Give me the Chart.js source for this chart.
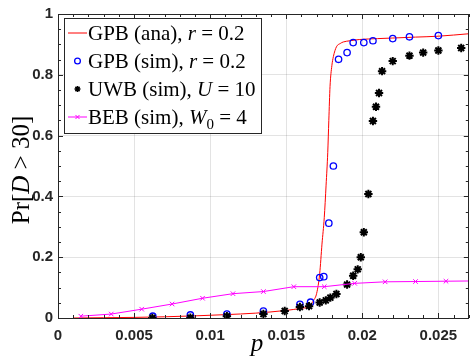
<!DOCTYPE html>
<html>
<head>
<meta charset="utf-8">
<script src="https://cdn.jsdelivr.net/npm/chart.js@4.4.1/dist/chart.umd.min.js"></script>
<style>
  body { margin: 0; background: #fff; }
  #wrap { width: 475px; height: 357px; }
</style>
</head>
<body>
<div id="wrap"><canvas id="prChart"></canvas></div>
<script>
// GPB analytic curve
var gpbAnaP  = [0.001, 0.003, 0.005, 0.007, 0.009, 0.011, 0.013, 0.014, 0.015, 0.016, 0.0165, 0.0168, 0.017, 0.0172, 0.01735, 0.0175, 0.01762, 0.01773, 0.0178, 0.01788, 0.018, 0.0181, 0.0183, 0.01855, 0.01875, 0.0192, 0.0198, 0.021, 0.022, 0.0235, 0.025, 0.027];
var gpbAnaPr = [0.0, 0.001, 0.002, 0.004, 0.007, 0.011, 0.016, 0.02, 0.025, 0.032, 0.038, 0.058, 0.081, 0.146, 0.243, 0.33, 0.437, 0.545, 0.65, 0.762, 0.83, 0.86, 0.892, 0.903, 0.908, 0.912, 0.916, 0.919, 0.921, 0.924, 0.927, 0.935];

// GPB simulation
var gpbSimP  = [0.00623, 0.0087, 0.0111, 0.0135, 0.0159, 0.0166, 0.0172, 0.01747, 0.0178, 0.0181, 0.01844, 0.019, 0.0194, 0.0201, 0.0207, 0.022, 0.0231, 0.025];
var gpbSimPr = [0.006, 0.01, 0.013, 0.023, 0.045, 0.052, 0.133, 0.136, 0.312, 0.5, 0.851, 0.873, 0.906, 0.906, 0.912, 0.919, 0.925, 0.929];

// UWB simulation
var uwbP  = [0.0062, 0.0087, 0.0111, 0.0135, 0.0149, 0.0159, 0.0165, 0.0172, 0.0176, 0.0179, 0.0183, 0.019, 0.0194, 0.0197, 0.0199, 0.0201, 0.0204, 0.0207, 0.0209, 0.0211, 0.0213, 0.022, 0.0231, 0.024, 0.025, 0.0265];
var uwbPr = [0.0, 0.001, 0.006, 0.013, 0.023, 0.036, 0.039, 0.051, 0.058, 0.067, 0.079, 0.11, 0.139, 0.16, 0.2, 0.282, 0.408, 0.648, 0.695, 0.74, 0.812, 0.845, 0.863, 0.873, 0.88, 0.888];

// BEB simulation
var bebP  = [0.0015, 0.0035, 0.0055, 0.0075, 0.0095, 0.0115, 0.0135, 0.0155, 0.0175, 0.0195, 0.0215, 0.0235, 0.0255, 0.0275];
var bebPr = [0.006, 0.013, 0.029, 0.046, 0.065, 0.08, 0.087, 0.103, 0.103, 0.114, 0.119, 0.12, 0.121, 0.122];

var xTicks = [0, 0.005, 0.01, 0.015, 0.02, 0.025];
var yTicks = [0, 0.2, 0.4, 0.6, 0.8, 1];

var serif = '"Liberation Serif", "Times New Roman", serif';

function pts(xs, ys) {
  return xs.map(function(x, i) { return { x: x, y: ys[i] }; });
}

// legend rows: text runs, italic for math symbols
var legendRows = [
  [['GPB (ana), ', 'n'], ['r', 'i'], [' = 0.2', 'n']],
  [['GPB (sim), ', 'n'], ['r', 'i'], [' = 0.2', 'n']],
  [['UWB (sim), ', 'n'], ['U', 'i'], [' = 10', 'n']],
  [['BEB (sim), ', 'n'], ['W', 'i'], ['0', 's'], [' = 4', 'n']]
];

function runFont(kind, size) {
  if (kind == 'i') return 'italic ' + size + 'px ' + serif;
  if (kind == 's') return Math.round(size * 0.7) + 'px ' + serif;
  return size + 'px ' + serif;
}

function drawRuns(ctx, x, y, runs, size) {
  runs.forEach(function(r) {
    ctx.font = runFont(r[1], size);
    ctx.fillText(r[0], x, r[1] == 's' ? y + size * 0.22 : y);
    x += ctx.measureText(r[0]).width;
  });
  return x;
}

function runsWidth(ctx, runs, size) {
  var w = 0;
  runs.forEach(function(r) {
    ctx.font = runFont(r[1], size);
    w += ctx.measureText(r[0]).width;
  });
  return w;
}

// box, inward ticks, axis titles and legend
var matlabAxes = {
  id: 'matlabAxes',
  afterDatasetsDraw: function(chart) {
    var ctx = chart.ctx, a = chart.chartArea;
    var xs = chart.scales.x, ys = chart.scales.y;
    ctx.save();
    ctx.strokeStyle = '#262626';
    ctx.lineWidth = 1;
    ctx.beginPath();
    var i, px, py, len;
    for (i = 0; i <= 27; i++) {
      px = Math.round(xs.getPixelForValue(i * 0.001)) + 0.5;
      len = (i % 5 == 0) ? 5 : 3;
      ctx.moveTo(px, a.bottom); ctx.lineTo(px, a.bottom - len);
      ctx.moveTo(px, a.top); ctx.lineTo(px, a.top + len);
    }
    for (i = 0; i <= 20; i++) {
      py = Math.round(ys.getPixelForValue(i * 0.05)) + 0.5;
      len = (i % 4 == 0) ? 5 : 3;
      ctx.moveTo(a.left, py); ctx.lineTo(a.left + len, py);
      ctx.moveTo(a.right, py); ctx.lineTo(a.right - len, py);
    }
    ctx.stroke();
    ctx.strokeRect(Math.round(a.left) + 0.5, Math.round(a.top) + 0.5,
                   Math.round(a.right - a.left) - 1, Math.round(a.bottom - a.top));
    ctx.restore();
  },
  afterDraw: function(chart) {
    var ctx = chart.ctx;
    ctx.save();
    ctx.fillStyle = '#000';
    ctx.textBaseline = 'alphabetic';

    // x title
    ctx.font = 'italic 25px ' + serif;
    ctx.textAlign = 'center';
    ctx.fillText('p', 257, 351);
    ctx.textAlign = 'left';

    // y title
    var yRuns = [['Pr[', 'n'], ['D', 'i'], [' > 30]', 'n']];
    var yw = runsWidth(ctx, yRuns, 25);
    ctx.save();
    ctx.translate(29, 170);
    ctx.rotate(-Math.PI / 2);
    drawRuns(ctx, -yw / 2, 0, yRuns, 25);
    ctx.restore();

    // legend
    var lx = 64.5, ly = 18.5, lw = 197, lh = 115;
    ctx.fillStyle = '#fff';
    ctx.fillRect(lx, ly, lw, lh);
    ctx.strokeStyle = '#262626';
    ctx.lineWidth = 1;
    ctx.strokeRect(lx, ly, lw, lh);

    chart.data.datasets.forEach(function(ds, k) {
      var cy = 33 + k * 28;
      var mx = 77.5;
      ctx.strokeStyle = ds.borderColor;
      ctx.fillStyle = ds.backgroundColor || 'rgba(0,0,0,0)';
      if (ds.showLine !== false) {
        ctx.lineWidth = ds.borderWidth;
        ctx.beginPath();
        ctx.moveTo(68, cy); ctx.lineTo(87, cy);
        ctx.stroke();
      }
      if (ds.pointRadius > 0) {
        // legend markers a touch smaller than on the plot
        var r = ds.pointStyle == 'star' ? 3 : ds.pointRadius * 0.9;
        var bw = ds.pointStyle == 'star' ? 1.5 : ds.pointBorderWidth;
        ctx.lineWidth = bw;
        Chart.helpers.drawPoint(ctx, {
          pointStyle: ds.pointStyle,
          radius: r,
          borderWidth: bw,
          rotation: 0
        }, mx, cy);
      }
      ctx.fillStyle = '#000';
      drawRuns(ctx, 88, cy + 7, legendRows[k], 21);
    });
    ctx.restore();
  }
};

var ctx = document.getElementById('prChart').getContext('2d');

var prChart = new Chart(ctx, {
  type: 'scatter',
  data: {
    datasets: [
      {
        label: 'GPB (ana)',
        data: pts(gpbAnaP, gpbAnaPr),
        showLine: true,
        borderColor: 'rgb(255,0,0)',
        backgroundColor: 'rgba(0,0,0,0)',
        borderWidth: 1,
        pointRadius: 0,
        cubicInterpolationMode: 'monotone',
        order: 4
      },
      {
        label: 'GPB (sim)',
        data: pts(gpbSimP, gpbSimPr),
        showLine: false,
        borderColor: 'rgb(0,0,255)',
        backgroundColor: 'rgba(0,0,0,0)',
        pointStyle: 'circle',
        pointRadius: 3.2,
        pointBorderWidth: 1.3,
        order: 3
      },
      {
        label: 'UWB (sim)',
        data: pts(uwbP, uwbPr),
        showLine: false,
        borderColor: '#000',
        backgroundColor: '#000',
        pointStyle: 'star',
        pointRadius: 4.2,
        pointBorderWidth: 2,
        order: 2
      },
      {
        label: 'BEB (sim)',
        data: pts(bebP, bebPr),
        showLine: true,
        borderColor: 'rgb(255,0,255)',
        backgroundColor: 'rgba(0,0,0,0)',
        borderWidth: 1,
        pointStyle: 'crossRot',
        pointRadius: 3.2,
        pointBorderWidth: 1,
        order: 1
      }
    ]
  },
  options: {
    responsive: true,
    maintainAspectRatio: false,
    devicePixelRatio: 1,
    animation: false,
    layout: { padding: { top: 10, right: 2, left: 0, bottom: 0 } },
    plugins: {
      legend: { display: false },
      tooltip: { enabled: false }
    },
    scales: {
      x: {
        type: 'linear',
        min: 0,
        max: 0.027,
        afterBuildTicks: function(scale) {
          scale.ticks = xTicks.map(function(v) { return { value: v }; });
        },
        afterFit: function(scale) { scale.height = 39; },
        grid: { color: 'rgba(0,0,0,0.11)', drawTicks: false },
        border: { display: false },
        ticks: {
          padding: 9,
          color: '#262626',
          font: { family: '"Liberation Sans", Arial, sans-serif', size: 15, weight: 'bold' },
          callback: function(v) { return String(v); }
        }
      },
      y: {
        type: 'linear',
        min: 0,
        max: 1,
        afterBuildTicks: function(scale) {
          scale.ticks = yTicks.map(function(v) { return { value: v }; });
        },
        afterFit: function(scale) { scale.width = 58; },
        grid: { color: 'rgba(0,0,0,0.11)', drawTicks: false },
        border: { display: false },
        ticks: {
          padding: 5,
          color: '#262626',
          font: { family: '"Liberation Sans", Arial, sans-serif', size: 15, weight: 'bold' },
          callback: function(v) { return String(v); }
        }
      }
    }
  },
  plugins: [matlabAxes]
});
</script>
</body>
</html>
